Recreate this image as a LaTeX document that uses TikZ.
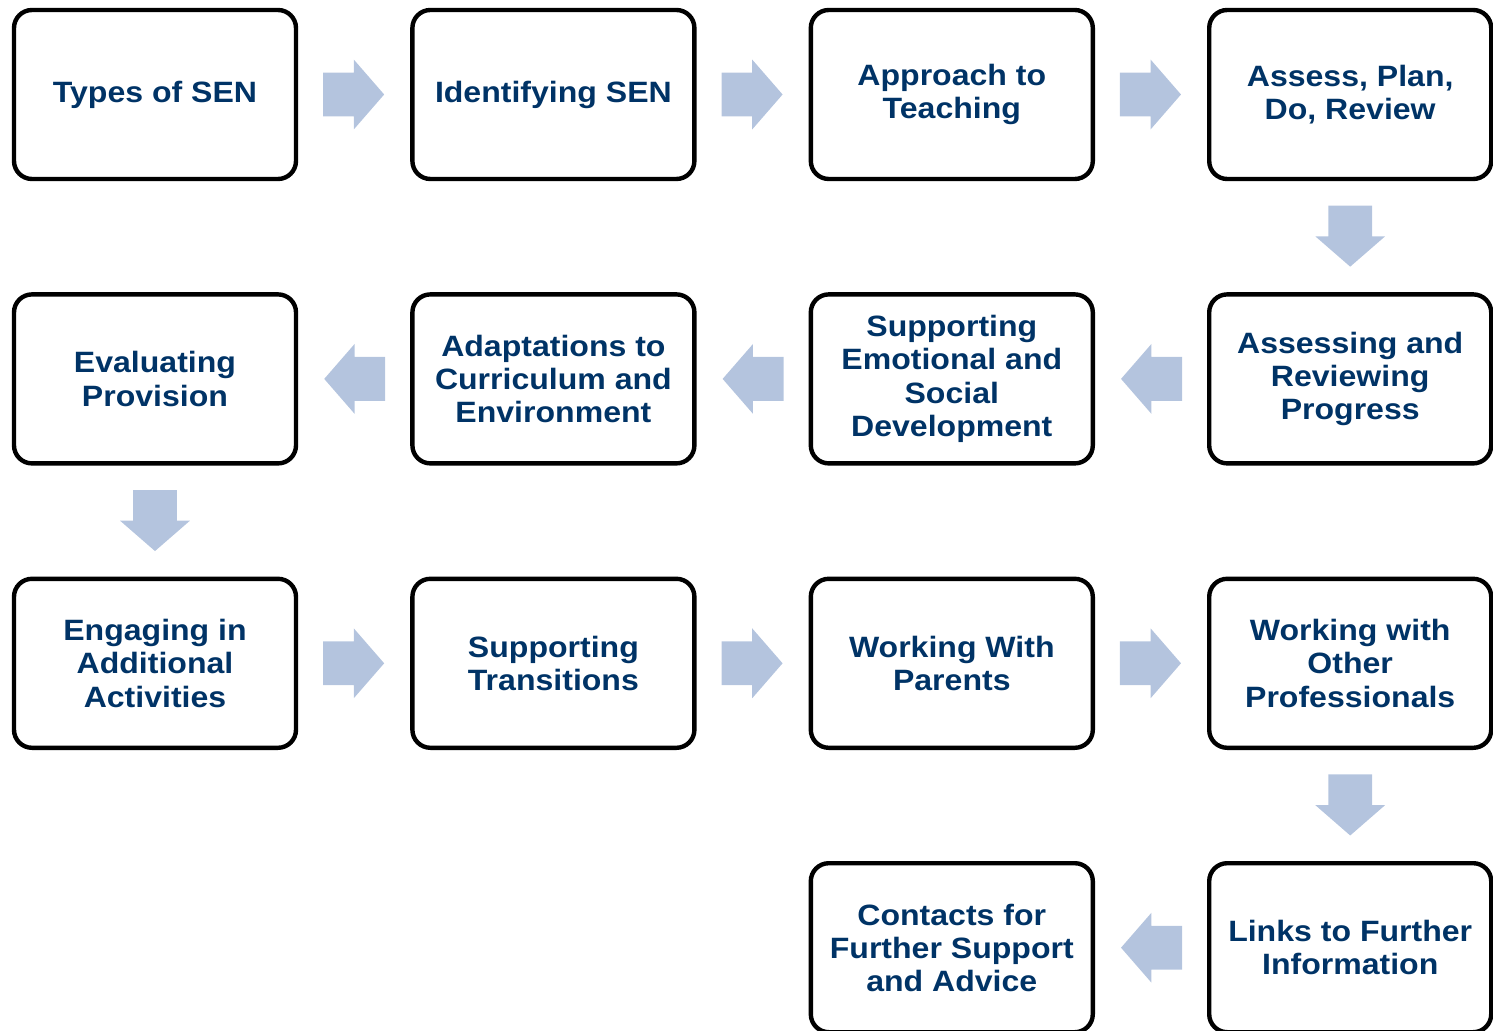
\documentclass[tikz,border=0pt]{standalone}
\usepackage{fontspec}
\setmainfont[FakeStretch=1.09]{Liberation Sans}
\usetikzlibrary{positioning,calc,shapes.arrows}

\definecolor{navy}{RGB}{0,51,102}
\definecolor{arrowblue}{RGB}{180,196,222}

\begin{document}
\begin{tikzpicture}[
node distance={57.7pt and 58.2pt},
box/.style={draw, line width=2.2pt, outer sep=0pt, rounded corners=9pt,
  minimum width=141pt, minimum height=84.5pt, align=center, text=navy,
  font=\fontsize{14.7pt}{16.6pt}\selectfont\bfseries},
flow/.style={single arrow, draw=none, fill=arrowblue, inner xsep=0pt,
  inner ysep=10.75pt, minimum height=30.5pt, anchor=tip,
  single arrow head extend=6.5pt, single arrow tip angle=98}
]
\useasboundingbox (0,0) rectangle (746.5pt,-515.5pt);

% first row, left to right
\node[box] (types) at (77.5pt,-47.25pt) {Types of SEN};
\node[box, right=of types] (identify) {Identifying SEN};
\node[box, right=of identify] (approach) {Approach to\\Teaching};
\node[box, right=of approach] (apdr) {Assess, Plan,\\Do, Review};

% second row, right to left
\node[box, below=of apdr] (progress) {Assessing and\\Reviewing\\Progress};
\node[box, left=of progress] (emotional) {Supporting\\Emotional and\\Social\\Development};
\node[box, left=of emotional] (adapt) {Adaptations to\\Curriculum and\\Environment};
\node[box, left=of adapt] (evaluate) {Evaluating\\Provision};

% third row, left to right
\node[box, below=of evaluate] (engage) {Engaging in\\Additional\\Activities};
\node[box, right=of engage] (transitions) {Supporting\\Transitions};
\node[box, right=of transitions] (parents) {Working With\\Parents};
\node[box, right=of parents] (professionals) {Working with\\Other\\Professionals};

% last row
\node[box, below=of professionals] (links) {Links to Further\\Information};
\node[box, left=of links] (contacts) {Contacts for\\Further Support\\and Advice};

% block arrows between the steps, tip half a length past the middle of the gap
\foreach \a/\b/\ang [count=\i] in {types/identify/0, identify/approach/0,
    approach/apdr/0, apdr/progress/-90, progress/emotional/180,
    emotional/adapt/180, adapt/evaluate/180, evaluate/engage/-90,
    engage/transitions/0, transitions/parents/0, parents/professionals/0,
    professionals/links/-90, links/contacts/180}
  \node[flow, rotate=\ang] (step\i) at ($(\a)!0.5!(\b)!15.25pt!(\b)$) {};

\end{tikzpicture}
\end{document}
